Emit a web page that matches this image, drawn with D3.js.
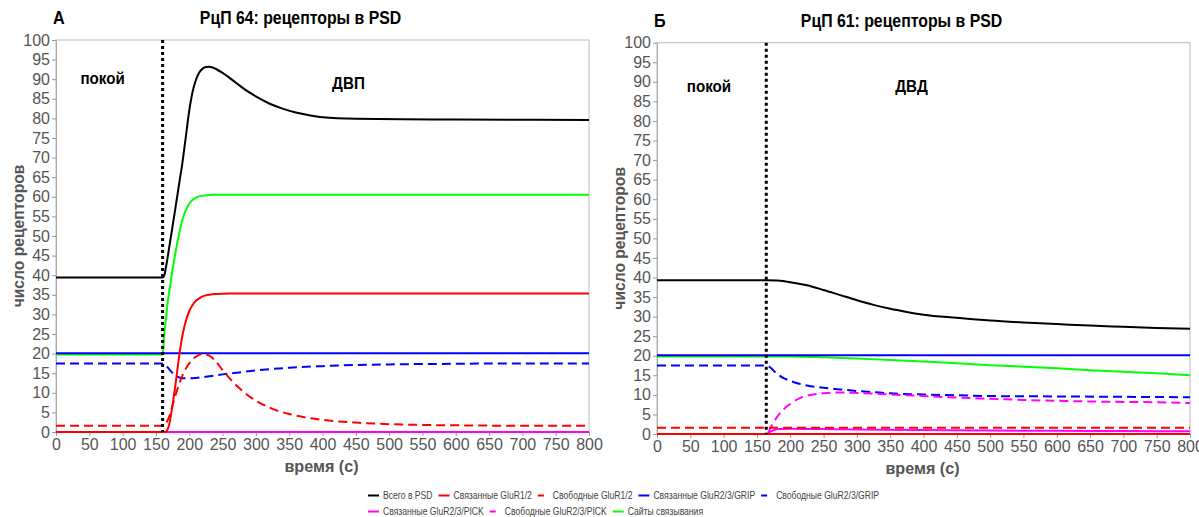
<!DOCTYPE html>
<html>
<head>
<meta charset="utf-8">
<script src="https://cdn.jsdelivr.net/npm/d3@7"></script>
<style>
  body { margin: 0; background: #fff; }
  text { font-family: "Liberation Sans", Arial, sans-serif; }
  .tick text { fill: #555; font-size: 16px; }
  .tick line { stroke: #999; }
  .domain { stroke: #aaa; }
</style>
</head>
<body>
<div id="chart"></div>
<script>
// Panel A (РцП 64) series, [time, count]
let totalA = [[0,39.4],[160,39.4],[162,39.7],[165,42],[170,47.2],[175,52.5],[180,58],[185,63.5],[190,69],[195,75.5],[200,82],[205,86.8],[210,89.8],[215,91.7],[220,92.7],[225,93.1],[230,93.2],[235,93.0],[240,92.6],[250,91.6],[260,90.4],[270,89.1],[285,87.2],[300,85.6],[320,83.8],[340,82.5],[360,81.5],[380,80.8],[400,80.3],[450,79.9],[520,79.8],[600,79.7],[800,79.6]];
let boundGluR12A = [[0,0],[164,0],[167,0.5],[170,2],[175,7],[180,13],[185,19.5],[190,24.8],[195,28.4],[200,30.8],[205,32.4],[210,33.5],[215,34.1],[220,34.6],[230,35],[240,35.2],[260,35.3],[800,35.3]];
let freeGluR12A = [[0,1.6],[160,1.6],[163,1.8],[166,2.5],[170,4],[175,6.8],[180,9.8],[185,12.3],[190,14.5],[195,16.2],[200,17.5],[210,19.2],[220,19.9],[230,19.5],[240,18],[250,15.8],[260,13.8],[275,11.2],[290,9.1],[300,8],[325,5.9],[350,4.6],[375,3.7],[400,3.1],[450,2.4],[500,2.0],[550,1.8],[600,1.7],[700,1.6],[800,1.6]];
let boundGripA = [[0,20.1],[800,20.1]];
let freeGripA = [[0,17.5],[160,17.5],[163,17.3],[167,16.6],[172,15.6],[178,14.6],[184,14.0],[190,13.7],[200,13.7],[210,13.8],[225,14.1],[250,14.7],[275,15.2],[300,15.7],[350,16.4],[400,16.8],[450,17.1],[500,17.25],[600,17.4],[700,17.5],[800,17.5]];
let boundPickA = [[0,0],[800,0]];
let freePickA = [[0,0],[800,0]];
let sitesA = [[0,19.8],[160,19.8],[162,24],[165,29],[168,33.5],[171,37],[175,41.5],[181,47.3],[186,51.5],[191,54.9],[196,57],[201,58.5],[210,59.8],[220,60.3],[240,60.5],[300,60.5],[800,60.5]];

// Panel B (РцП 61) series
let totalB = [[0,39.3],[165,39.3],[180,39.2],[200,38.8],[225,38.0],[250,36.8],[275,35.5],[300,34.2],[325,33.0],[350,32.0],[375,31.2],[400,30.5],[450,29.7],[500,29.0],[550,28.5],[600,28.1],[650,27.7],[700,27.4],[750,27.1],[800,26.9]];
let boundGluR12B = [[0,0],[800,0]];
let freeGluR12B = [[0,1.6],[800,1.6]];
let boundGripB = [[0,20.1],[800,20.1]];
let freeGripB = [[0,17.5],[165,17.5],[170,17.0],[175,16.2],[180,15.4],[190,14.3],[200,13.6],[212,12.9],[225,12.4],[250,11.8],[275,11.4],[300,11.0],[325,10.7],[350,10.4],[400,10.1],[450,9.9],[500,9.7],[600,9.6],[700,9.5],[800,9.4]];
let boundPickB = [[0,0],[165,0],[170,0.6],[175,1.0],[185,1.3],[200,1.35],[250,1.25],[300,1.15],[400,1.0],[500,0.9],[600,0.8],[700,0.75],[800,0.7]];
let freePickB = [[0,0],[165,0],[170,1.5],[175,3],[180,4.3],[190,6.3],[200,7.7],[212,9.0],[225,9.8],[250,10.4],[275,10.6],[300,10.5],[350,10.1],[400,9.7],[450,9.3],[500,9.0],[550,8.7],[600,8.5],[650,8.3],[700,8.2],[750,8.1],[800,7.9]];
let sitesB = [[0,19.8],[200,19.8],[250,19.6],[300,19.3],[350,18.9],[400,18.5],[450,18.1],[500,17.6],[550,17.2],[600,16.8],[650,16.3],[700,15.9],[750,15.5],[800,15.0]];

let xTicks = d3.range(0, 801, 50);
let yTicks = d3.range(0, 101, 5);

let seriesNames = ["Всего в PSD", "Связанные GluR1/2", "Свободные GluR1/2", "Связанные GluR2/3/GRIP",
                   "Свободные GluR2/3/GRIP", "Связанные GluR2/3/PICK", "Свободные GluR2/3/PICK", "Сайты связывания"];
let seriesColors = ["#000000", "#ff0000", "#ff0000", "#0000ff", "#0000ff", "#ff00ff", "#ff00ff", "#00ff00"];
let seriesDashed = [false, false, true, false, true, false, true, false];
// drawing order (index into names): sites under, red over magenta
let drawOrder = [7, 0, 3, 4, 5, 6, 1, 2];

let panels = [
    {letter: "А", title: "РцП 64: рецепторы в PSD", left: 56, right: 589, top: 40, bottom: 432,
     stim: 160, rest: ["покой", 70, 88.8], phase: ["ДВП", 439, 87.5],
     data: [totalA, boundGluR12A, freeGluR12A, boundGripA, freeGripA, boundPickA, freePickA, sitesA]},
    {letter: "Б", title: "РцП 61: рецепторы в PSD", left: 657, right: 1190, top: 42.7, bottom: 434,
     stim: 164, rest: ["покой", 78, 87.5], phase: ["ДВД", 382, 87.5],
     data: [totalB, boundGluR12B, freeGluR12B, boundGripB, freeGripB, boundPickB, freePickB, sitesB]}
];

let svg = d3.select("#chart")
            .append("svg")
                .attr("width", 1199)
                .attr("height", 517);

// narrow text: squeezes a normal face to look like a condensed one
function narrowText(parent, x, y, txt, size, sx, anchor) {
    let t = parent.append("g")
        .attr("transform", "translate(" + x + "," + y + ") scale(" + sx + ",1)")
        .append("text")
            .attr("text-anchor", anchor || "middle")
            .style("font-size", size + "px")
            .text(txt);
    return t;
}

panels.forEach(p => {
    let x = d3.scaleLinear().domain([0, 800]).range([p.left, p.right]);
    let y = d3.scaleLinear().domain([0, 100]).range([p.bottom, p.top]);
    let g = svg.append("g");

    // frame
    g.append("rect")
        .attr("x", p.left).attr("y", p.top)
        .attr("width", p.right - p.left).attr("height", p.bottom - p.top)
        .attr("fill", "none").attr("stroke", "#bbb");

    // X axis
    let xAxis = g.append("g")
        .attr("transform", "translate(0," + p.bottom + ")")
        .call(d3.axisBottom(x).tickValues(xTicks).tickSize(4).tickPadding(3).tickSizeOuter(0));

    // Y axis
    let yAxis = g.append("g")
        .attr("transform", "translate(" + p.left + ",0)")
        .call(d3.axisLeft(y).tickValues(yTicks).tickSize(4).tickPadding(2).tickSizeOuter(0));
    yAxis.select(".domain").attr("stroke", "#999");

    // series
    let line = d3.line()
        .x(d => x(d[0]))
        .y(d => y(d[1]))
        .curve(d3.curveMonotoneX);

    drawOrder.forEach(i => {
        g.append("path")
            .datum(p.data[i])
            .attr("d", line)
            .attr("fill", "none")
            .attr("stroke", seriesColors[i])
            .attr("stroke-width", 2)
            .attr("stroke-dasharray", seriesDashed[i] ? "9,5" : null);
    });

    // stimulus marker
    g.append("line")
        .attr("x1", x(p.stim)).attr("x2", x(p.stim))
        .attr("y1", p.top).attr("y2", p.bottom)
        .attr("stroke", "#000").attr("stroke-width", 3)
        .attr("stroke-dasharray", "3,3");

    // annotations
    [p.rest, p.phase].forEach(a => {
        narrowText(g, x(a[1]), y(a[2]), a[0], 16, 0.95)
            .style("font-weight", "bold");
    });

    // titles
    narrowText(g, (p.left + p.right) / 2 - 22, p.top - 16, p.title, 18, 0.88)
        .style("font-weight", "bold");
    narrowText(g, p.left - 3, p.top - 16, p.letter, 18, 0.9, "start")
        .style("font-weight", "bold");

    // axis labels
    g.append("g")
        .attr("transform", "translate(" + (p.left - 32) + "," + ((p.top + p.bottom) / 2) + ") rotate(-90) scale(0.92,1)")
        .append("text")
            .attr("text-anchor", "middle")
            .style("font-size", "17px").style("font-weight", "bold").style("fill", "#555")
            .text("число рецепторов");
    narrowText(g, (p.left + p.right) / 2 - 1, p.bottom + 40, "время (с)", 17, 0.95)
        .style("font-weight", "bold").style("fill", "#555");
});

// Legend
let legendRows = [[0, 1, 2, 3, 4], [5, 6, 7]];
let legendScale = 0.86;
legendRows.forEach((row, r) => {
    let lx = 368;
    let ly = 499 + r * 16;
    row.forEach(i => {
        svg.append("line")
            .attr("x1", lx).attr("x2", lx + 11)
            .attr("y1", ly - 3.5).attr("y2", ly - 3.5)
            .attr("stroke", seriesColors[i]).attr("stroke-width", 2)
            .attr("stroke-dasharray", seriesDashed[i] ? "6,6" : null);
        let t = narrowText(svg, lx + 15, ly, seriesNames[i], 10, legendScale, "start")
            .style("fill", "#444");
        lx += 15 + t.node().getComputedTextLength() * legendScale + 6;
    });
});
</script>
</body>
</html>
